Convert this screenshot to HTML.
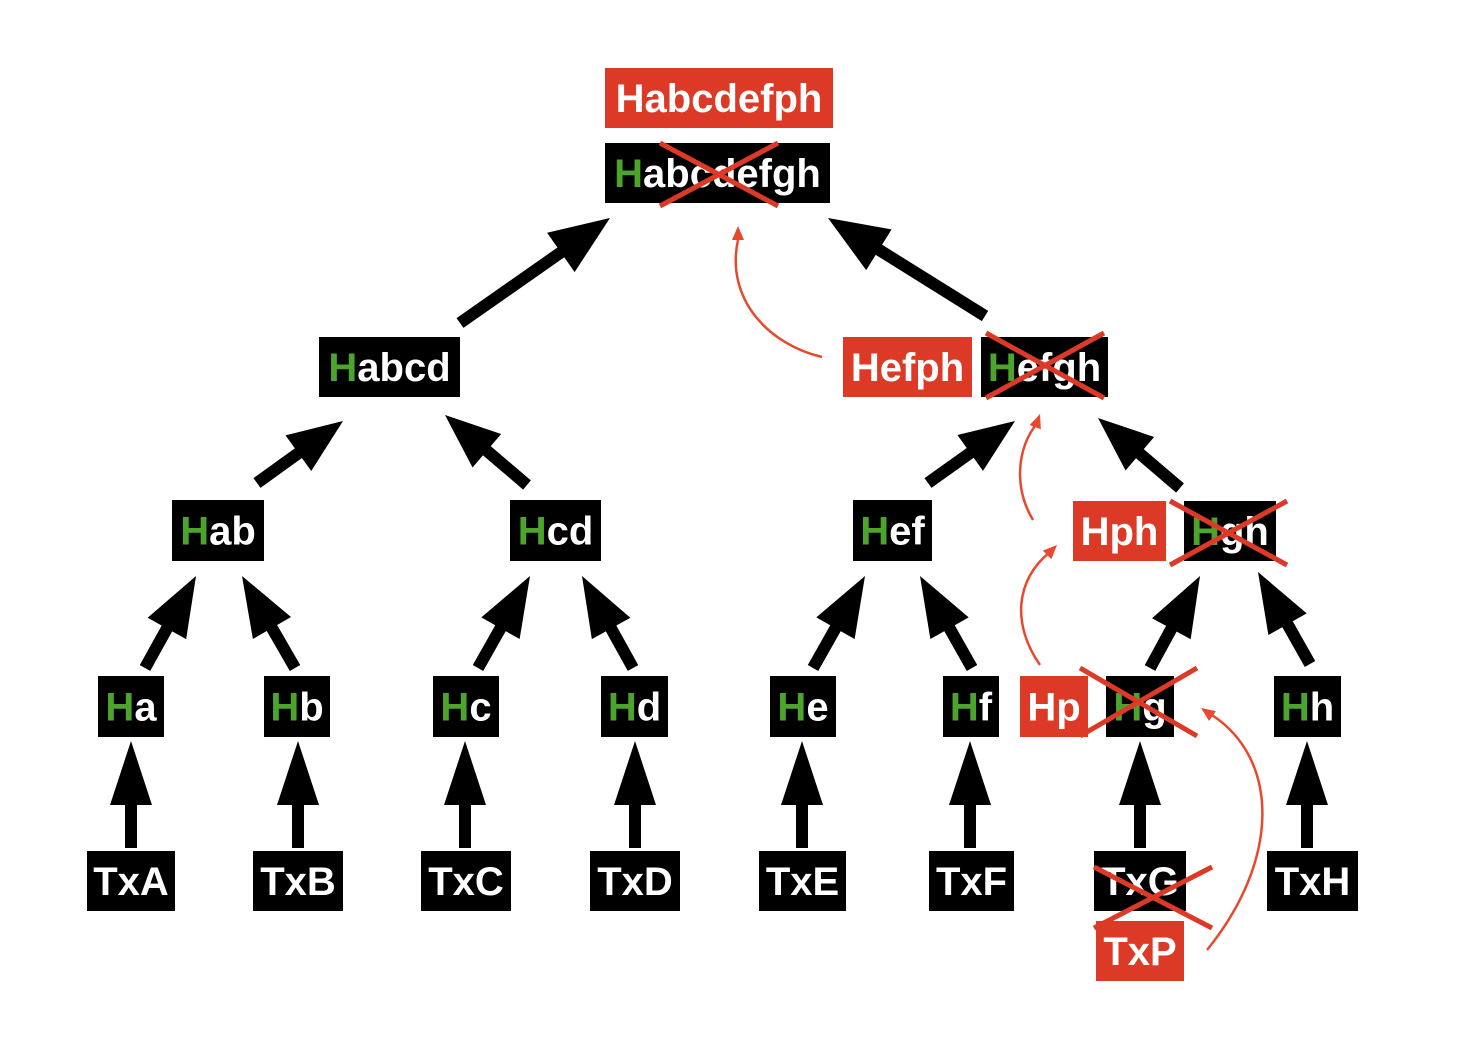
<!DOCTYPE html>
<html><head><meta charset="utf-8"><style>
html,body{margin:0;padding:0;background:#fff;width:1470px;height:1048px;overflow:hidden}
svg text{font-family:"Liberation Sans",Arial,sans-serif;font-weight:bold;font-size:40px}
</style></head><body>
<svg id="s" width="1470" height="1048" xmlns="http://www.w3.org/2000/svg">
<g id="boxes"></g><g id="arrows"></g><g id="red"></g>
</svg>
<script>
const NS="http://www.w3.org/2000/svg";
const B=document.getElementById('boxes'),A=document.getElementById('arrows'),R=document.getElementById('red');
function el(p,t,a,txt){const e=document.createElementNS(NS,t);for(const k in a)e.setAttribute(k,a[k]);if(txt!==undefined)e.textContent=txt;p.appendChild(e);return e;}
// box(x1,y1,x2,y2,label,red,greenH)
function box(x1,y1,x2,y2,label,red,green){
  el(B,'rect',{x:x1,y:y1,width:x2-x1,height:y2-y1,fill:red?'#dc3a26':'#000'});
  const t=el(B,'text',{x:(x1+x2)/2,y:(y1+y2)/2+14,'text-anchor':'middle',fill:'#fff'});
  if(green){el(t,'tspan',{fill:'#4ca42c'},label[0]);el(t,'tspan',{},label.slice(1));}
  else t.textContent=label;
}
box(605,68,833,128,'Habcdefph',1,0);
box(605,143,830,203,'Habcdefgh',0,1);
box(319,337,460,397,'Habcd',0,1);
box(843,337,972,397,'Hefph',1,0);
box(981,337,1108,397,'Hefgh',0,1);
box(172,500,264,561,'Hab',0,1);
box(510,500,601,561,'Hcd',0,1);
box(853,500,932,561,'Hef',0,1);
box(1073,501,1166,561,'Hph',1,0);
box(1184,501,1276,561,'Hgh',0,1);
const leaves=[[98,164,'Ha'],[264,330,'Hb'],[433,499,'Hc'],[601,668,'Hd'],[770,836,'He'],[943,999,'Hf'],[1106,1174,'Hg'],[1274,1341,'Hh']];
leaves.forEach(l=>box(l[0],676,l[1],737,l[2],0,1));
box(1020,676,1088,737,'Hp',1,0);
const tx=[[87,175,'TxA'],[253,343,'TxB'],[421,511,'TxC'],[590,680,'TxD'],[759,846,'TxE'],[929,1014,'TxF'],[1094,1186,'TxG'],[1267,1358,'TxH']];
tx.forEach(l=>box(l[0],851,l[1],911,l[2],0,0));
box(1096,921,1184,981,'TxP',1,0);
// arrows
function arrow(x1,y1,x2,y2,hl,hw,sw){
  const dx=x2-x1,dy=y2-y1,L=Math.hypot(dx,dy),ux=dx/L,uy=dy/L,px=-uy,py=ux;
  const bx=x2-ux*hl,by=y2-uy*hl;
  el(A,'line',{x1:x1,y1:y1,x2:bx+ux*2,y2:by+uy*2,stroke:'#000','stroke-width':sw});
  el(A,'polygon',{points:`${x2},${y2} ${bx+px*hw/2},${by+py*hw/2} ${bx-px*hw/2},${by-py*hw/2}`,fill:'#000'});
}
[131,298,465,635,802,970,1140,1307].forEach(x=>arrow(x,848,x,741,64,42,12));
[[145,668,196,576],[295,668,242,576],[478,668,530,576],[633,668,582,576],[813,668,865,576],[972,668,920,576],[1150,668,1200,576],[1310,664,1258,572]].forEach(a=>arrow(a[0],a[1],a[2],a[3],60,44,12));
[[257,483,343,421],[527,485,445,415],[928,483,1015,421],[1180,488,1098,418]].forEach(a=>arrow(a[0],a[1],a[2],a[3],55,44,12));
arrow(460,323,610,218,60,48,12);
arrow(985,316,828,218,60,48,12);
// red crosses
function cross(x1,y1,x2,y2){el(R,'line',{x1:x1,y1:y1,x2:x2,y2:y2,stroke:'#dc3a26','stroke-width':5});el(R,'line',{x1:x1,y1:y2,x2:x2,y2:y1,stroke:'#dc3a26','stroke-width':5});}
cross(660,143,778,206);
cross(986,333,1104,398);
cross(1170,501,1287,565);
cross(1080,668,1197,736);
cross(1094,867,1212,928);
// red curves with arrowheads
function curve(d,tx,ty,ang){
  el(R,'path',{d:d,fill:'none',stroke:'#e8482e','stroke-width':2.5});
  const a=ang*Math.PI/180,l=14,w=6;
  const bx=tx-Math.cos(a)*l,by=ty-Math.sin(a)*l;
  el(R,'polygon',{points:`${tx},${ty} ${bx-Math.sin(a)*w},${by+Math.cos(a)*w} ${bx+Math.sin(a)*w},${by-Math.cos(a)*w}`,fill:'#e8482e'});
}
curve('M822,357 C770,345 725,300 738,240',738,226,-90);
curve('M1033,520 C1015,490 1015,450 1038,422',1040,414,-70);
curve('M1040,665 C1012,625 1015,580 1050,552',1057,545,-45);
curve('M1207,950 C1280,860 1280,760 1212,715',1201,708,-145);
</script>
</body></html>
